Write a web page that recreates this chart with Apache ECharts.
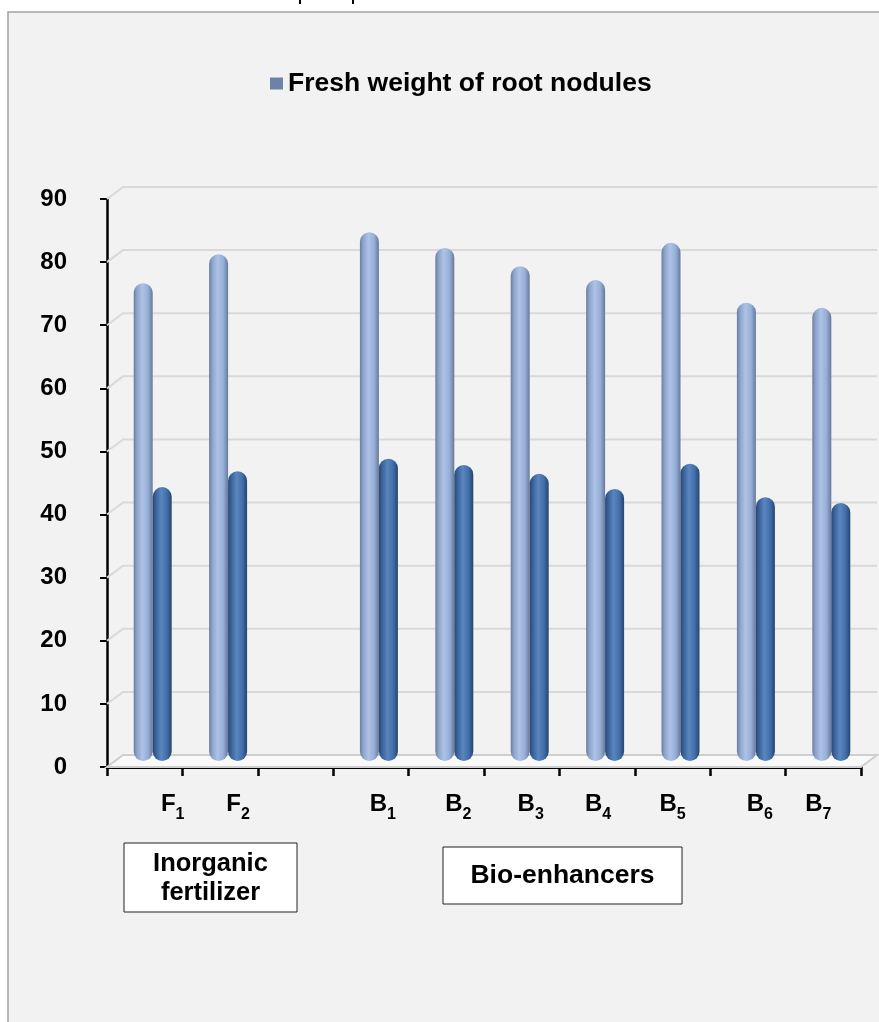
<!DOCTYPE html>
<html><head><meta charset="utf-8">
<script src="https://cdn.jsdelivr.net/npm/echarts@6/dist/echarts.min.js"></script>
<style>html,body{margin:0;padding:0;background:#fff}#c{width:879px;height:1022px}</style>
</head><body><div id="c"></div>
<script>
// ---- data ----
const categories = ['F1', 'F2', '', 'B1', 'B2', 'B3', 'B4', 'B5', 'B6', 'B7'];
const lightValues = [75.7, 80.3, null, 83.8, 81.3, 78.4, 76.2, 82.1, 72.6, 71.8];
const darkValues = [43.4, 45.9, null, 47.9, 46.9, 45.5, 43.1, 47.1, 41.8, 40.9];
const yTicks = [0, 10, 20, 30, 40, 50, 60, 70, 80, 90];
const legendName = 'Fresh weight of root nodules';
const groupLabels = ['Inorganic\nfertilizer', 'Bio-enhancers'];

// ---- styling ----
const FONT = '"Liberation Sans", Arial, sans-serif';
const labelShift = [28, 18, 0, 12, 12, 9, 1, 0, 12, -5];
const DX = 16, DY = 12;

const rich = {
  b: { fontSize: 24, fontWeight: 'bold', fontFamily: FONT, color: '#000', lineHeight: 26, verticalAlign: 'top' },
  s: { fontSize: 16, fontWeight: 'bold', fontFamily: FONT, color: '#000', lineHeight: 31, verticalAlign: 'bottom' }
};
labelShift.forEach((s, i) => { rich['p' + i] = { width: Math.abs(s) * 2, fontSize: 10, lineHeight: 26 }; });

function xLabel(val, idx) {
  if (!val) return '';
  const s = labelShift[idx];
  const body = '{b|' + val.charAt(0) + '}{s|' + val.slice(1) + '}';
  const pad = '{p' + idx + '| }';
  return s >= 0 ? pad + body : body + pad;
}

function lightGrad() {
  return new echarts.graphic.LinearGradient(0, 0, 1, 0, [
    { offset: 0, color: '#6a7e9f' }, { offset: 0.18, color: '#8ea5cc' },
    { offset: 0.45, color: '#adc2e6' }, { offset: 0.75, color: '#96aed7' },
    { offset: 1, color: '#65799a' }]);
}
function darkGrad() {
  return new echarts.graphic.LinearGradient(0, 0, 1, 0, [
    { offset: 0, color: '#2a4873' }, { offset: 0.2, color: '#3d67a0' },
    { offset: 0.45, color: '#5a85bf' }, { offset: 0.75, color: '#416fa9' },
    { offset: 1, color: '#27446d' }]);
}

const chart = echarts.init(document.getElementById('c'), null, { renderer: 'canvas' });
chart.setOption({
  animation: false,
  backgroundColor: '#ffffff',
  textStyle: { fontFamily: FONT },
  legend: {
    data: [{ name: legendName, icon: 'rect', itemStyle: { color: '#6c82a8' } }],
    left: 265, top: 65, itemWidth: 13, itemHeight: 12,
    textStyle: { fontSize: 26.5, fontWeight: 'bold', color: '#000', fontFamily: FONT }
  },
  grid: [
    { left: 107, right: 18, top: 199, bottom: 255 },
    { left: 115, right: 10, top: 193, bottom: 261 }
  ],
  xAxis: [
    {
      type: 'category', gridIndex: 0, data: categories,
      axisLine: { show: true, lineStyle: { color: '#000', width: 3 } },
      axisTick: { show: true, interval: 0, length: 9, lineStyle: { color: '#000', width: 2.5 } },
      axisLabel: { interval: 0, margin: 25, formatter: xLabel, rich: rich }
    },
    { type: 'category', gridIndex: 1, data: categories, show: false }
  ],
  yAxis: [
    {
      type: 'value', gridIndex: 0, min: 0, max: 90, interval: 10,
      axisLine: { show: true, lineStyle: { color: '#000', width: 2.5 } },
      axisTick: { show: true, length: 7, lineStyle: { color: '#000', width: 2 } },
      splitLine: { show: false },
      axisLabel: { margin: 40, fontSize: 24, fontWeight: 'bold', color: '#000', fontFamily: FONT }
    },
    { type: 'value', gridIndex: 1, min: 0, max: 90, interval: 10, show: false }
  ],
  series: [
    {
      type: 'custom', xAxisIndex: 0, yAxisIndex: 0, z: 1, silent: true,
      data: yTicks.map(v => [0, v]),
      renderItem: function (params, api) {
        const cs = params.coordSys;
        const y = api.coord([0, api.value(1)])[1];
        const x0 = cs.x, x1 = cs.x + cs.width;
        if (api.value(1) === 0) {
          return {
            type: 'polygon',
            shape: { points: [[x0, y], [x0 + DX, y - DY], [x1 + DX, y - DY], [x1, y]] },
            style: { fill: '#f9f9f9', stroke: '#cfcfcf', lineWidth: 2 }
          };
        }
        return {
          type: 'polyline',
          shape: { points: [[x0, y], [x0 + DX, y - DY], [x1 + DX, y - DY]] },
          style: { fill: null, stroke: '#d9d9d9', lineWidth: 2 }
        };
      }
    },
    {
      name: legendName, type: 'bar', xAxisIndex: 1, yAxisIndex: 1, z: 3,
      data: lightValues, barWidth: 19, barGap: '0%',
      itemStyle: { color: lightGrad(), borderRadius: 10 }
    },
    {
      name: 'series2', type: 'bar', xAxisIndex: 1, yAxisIndex: 1, z: 3,
      data: darkValues, barWidth: 19, barGap: '0%',
      itemStyle: { color: darkGrad(), borderRadius: 10 }
    }
  ],
  graphic: [
    { type: 'rect', z: -100, silent: true, shape: { x: 8, y: 12, width: 900, height: 1030 },
      style: { fill: '#f2f2f2', stroke: '#a3a3a3', lineWidth: 1.5 } },
    { type: 'rect', z: 10, shape: { x: 299, y: 0, width: 2, height: 4 }, style: { fill: '#000' } },
    { type: 'rect', z: 10, shape: { x: 352, y: 0, width: 2, height: 4 }, style: { fill: '#000' } },
    { type: 'rect', z: 10, shape: { x: 124, y: 843, width: 173, height: 69 },
      style: { fill: '#fff', stroke: '#222', lineWidth: 1 } },
    { type: 'text', z: 11, x: 210.5, y: 878,
      style: { text: groupLabels[0], align: 'center', verticalAlign: 'middle', lineHeight: 29,
        font: 'bold 25.5px ' + FONT, fill: '#000' } },
    { type: 'rect', z: 10, shape: { x: 443, y: 847, width: 239, height: 57 },
      style: { fill: '#fff', stroke: '#222', lineWidth: 1 } },
    { type: 'text', z: 11, x: 562.5, y: 876,
      style: { text: groupLabels[1], align: 'center', verticalAlign: 'middle',
        font: 'bold 26.5px ' + FONT, fill: '#000' } }
  ]
});
</script>
</body></html>
